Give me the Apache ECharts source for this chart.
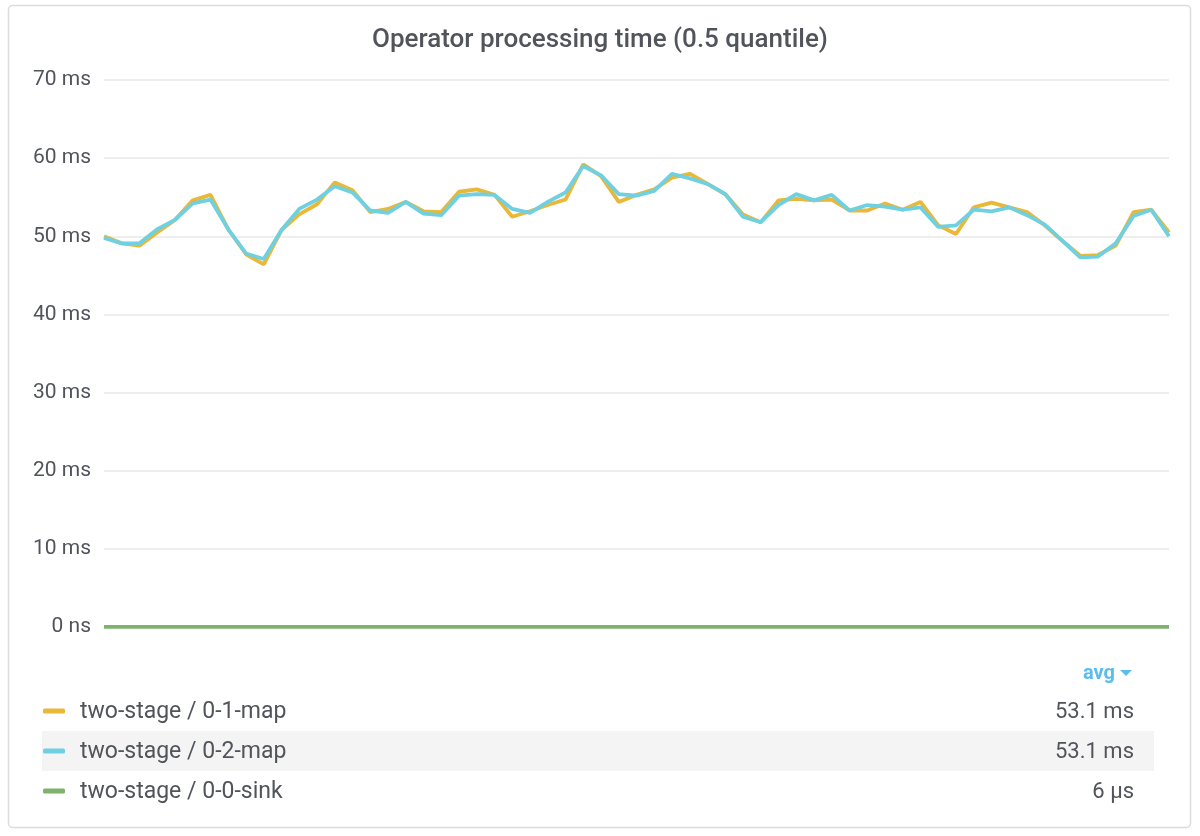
<!DOCTYPE html>
<html><head><meta charset="utf-8">
<script src="https://cdn.jsdelivr.net/npm/echarts@6/dist/echarts.min.js"></script>
<style>html,body{margin:0;padding:0;background:#fff;}#c{width:1200px;height:836px;}</style>
</head><body><div id="c"></div>
<script>
const seriesNames = ['two-stage / 0-1-map', 'two-stage / 0-2-map', 'two-stage / 0-0-sink'];
const seriesAvg = ['53.1 ms', '53.1 ms', '6 μs'];
const seriesColors = ['#EAB839', '#6ED0E0', '#7EB26D'];
const map1 = [50.0,49.1,48.8,50.5,52.1,54.6,55.3,50.9,47.7,46.4,50.8,52.8,54.1,56.9,55.9,53.1,53.5,54.4,53.2,53.1,55.7,56.0,55.3,52.5,53.2,54.0,54.7,59.2,57.7,54.4,55.3,56.0,57.5,58.0,56.7,55.4,52.8,51.8,54.6,54.8,54.6,54.7,53.3,53.3,54.2,53.4,54.4,51.4,50.3,53.7,54.3,53.7,53.1,51.4,49.4,47.5,47.6,48.8,53.1,53.4,50.5];
const map2 = [49.8,49.1,49.1,50.9,52.1,54.2,54.7,50.9,47.8,47.1,50.8,53.5,54.7,56.4,55.6,53.3,53.0,54.4,52.9,52.7,55.2,55.4,55.3,53.5,53.0,54.4,55.6,59.0,57.8,55.4,55.2,55.8,58.0,57.4,56.7,55.4,52.5,51.8,54.0,55.4,54.6,55.3,53.3,54.0,53.8,53.4,53.7,51.2,51.4,53.4,53.2,53.7,52.7,51.5,49.4,47.3,47.4,49.1,52.6,53.4,50.0];
const sink = map1.map(() => 0.006);
const categories = map1.map((_, i) => 't' + i);
const yTicks = {0: '0 ns', 10: '10 ms', 20: '20 ms', 30: '30 ms', 40: '40 ms', 50: '50 ms', 60: '60 ms', 70: '70 ms'};

const chart = echarts.init(document.getElementById('c'));
const FONT = 'Roboto, "Noto Sans", sans-serif';
const TXT = '#52545c';
const legendGraphics = [];
legendGraphics.push({type:'rect', shape:{x:42,y:731,width:1112,height:40}, style:{fill:'#f4f4f4'}, silent:true});
seriesNames.forEach((n, i) => {
  const cy = 711 + i * 40;
  legendGraphics.push({type:'rect', shape:{x:43,y:cy-2.5,width:22,height:5,r:1.5}, style:{fill:seriesColors[i]}});
  legendGraphics.push({type:'text', x:80, y:cy + 1, style:{text:n, fill:TXT, font:'23px ' + FONT, textVerticalAlign:'middle', textAlign:'left'}});
  legendGraphics.push({type:'text', x:1134, y:cy + 1, style:{text:seriesAvg[i], fill:TXT, font:'22px ' + FONT, textVerticalAlign:'middle', textAlign:'right'}});
});
legendGraphics.push({type:'text', x:1115, y:674, style:{text:'avg', fill:'#5bbcf0', font:'bold 20px ' + FONT, textVerticalAlign:'middle', textAlign:'right'}});
legendGraphics.push({type:'polygon', shape:{points:[[1120,670],[1132,670],[1126,676]]}, style:{fill:'#5bbcf0'}});
legendGraphics.push({type:'rect', shape:{x:8.5,y:5.5,width:1182,height:822,r:4}, style:{fill:'none', stroke:'#dcdcdc', lineWidth:1.5}, silent:true, z:-1});

chart.setOption({
  animation: false,
  textStyle: {fontFamily: FONT},
  title: {text: 'Operator processing time (0.5 quantile)', left: 'center', top: 22,
    textStyle: {fontSize: 26, fontWeight: 500, color: TXT, fontFamily: FONT}},
  grid: {left: 104, right: 31, top: 80, bottom: 209},
  xAxis: {type: 'category', data: categories, boundaryGap: false,
    axisLine: {show: false}, axisTick: {show: false}, axisLabel: {show: false}, splitLine: {show: false}},
  yAxis: {type: 'value', min: 0, max: 70, interval: 10,
    axisLine: {show: false}, axisTick: {show: false},
    axisLabel: {formatter: v => yTicks[v], color: TXT, fontSize: 21, margin: 13, fontFamily: FONT, padding: [3, 0, 0, 0]},
    splitLine: {lineStyle: {color: '#e8e8e8', width: 1.5}}},
  series: [
    {name: seriesNames[0], type: 'line', data: map1, symbol: 'none', lineStyle: {width: 3.8, color: seriesColors[0]}, itemStyle:{color:seriesColors[0]}},
    {name: seriesNames[1], type: 'line', data: map2, symbol: 'none', lineStyle: {width: 3.8, color: seriesColors[1]}, itemStyle:{color:seriesColors[1]}},
    {name: seriesNames[2], type: 'line', data: sink, symbol: 'none', lineStyle: {width: 3.8, color: seriesColors[2]}, itemStyle:{color:seriesColors[2]}}
  ],
  graphic: legendGraphics
});
</script></body></html>
